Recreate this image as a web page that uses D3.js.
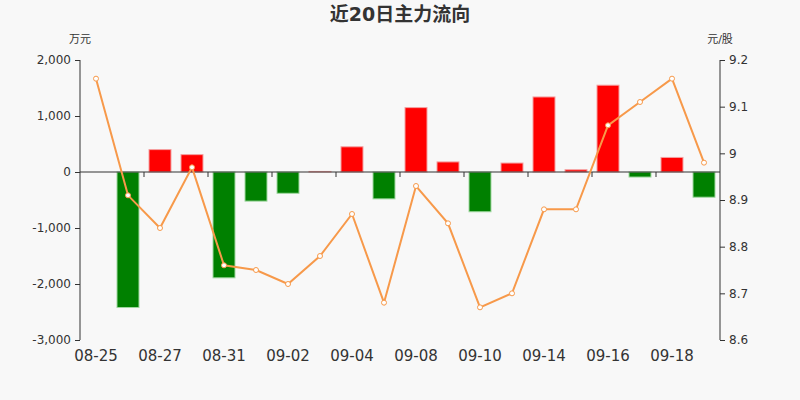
<!DOCTYPE html>
<html>
<head>
<meta charset="utf-8">
<title>近20日主力流向</title>
<script src="https://d3js.org/d3.v7.min.js"></script>
<style>
  body { margin: 0; background: #f8f8f8; }
  text { font-family: "DejaVu Sans", "Noto Sans CJK SC", sans-serif; fill: #333; }
</style>
</head>
<body>
<div id="chart"></div>
<script>
// 日期
var dates = ["08-25", "08-26", "08-27", "08-28", "08-31", "09-01", "09-02", "09-03", "09-04", "09-07",
             "09-08", "09-09", "09-10", "09-11", "09-14", "09-15", "09-16", "09-17", "09-18", "09-19"];
// 主力净流入 (万元)
var flows = [0, -2420, 400, 310, -1890, -520, -380, 10, 450, -480,
             1150, 180, -710, 160, 1340, 40, 1550, -90, 260, -450];
// 收盘价 (元/股)
var prices = [9.16, 8.91, 8.84, 8.97, 8.76, 8.75, 8.72, 8.78, 8.87, 8.68,
              8.93, 8.85, 8.67, 8.70, 8.88, 8.88, 9.06, 9.11, 9.16, 8.98];
var leftTicks = [2000, 1000, 0, -1000, -2000, -3000];
var rightTicks = [9.2, 9.1, 9, 8.9, 8.8, 8.7, 8.6];

var width = 800, height = 400;
var mLeft = 80, mRight = 720, mTop = 60, mBottom = 340;

var svg = d3.select("#chart").append("svg")
    .attr("width", width).attr("height", height)
    .style("background", "#f8f8f8");

// 标题
svg.append("text")
    .attr("x", 400).attr("y", 21)
    .attr("text-anchor", "middle")
    .attr("font-size", 19).attr("font-weight", "bold")
    .text("近20日主力流向");

svg.append("text").attr("x", 80).attr("y", 43)
    .attr("text-anchor", "middle").attr("font-size", 11).text("万元");
svg.append("text").attr("x", 720).attr("y", 43)
    .attr("text-anchor", "middle").attr("font-size", 11).text("元/股");

var x = d3.scaleBand().domain(dates).range([mLeft, mRight]).paddingInner(0.3125).paddingOuter(0.15625);
var xc = d3.scaleBand().domain(dates).range([mLeft, mRight]);
var y = d3.scaleLinear().domain([-3000, 2000]).range([mBottom, mTop]);
var y2 = d3.scaleLinear().domain([8.6, 9.2]).range([mBottom, mTop]);

var fmt = d3.formatLocale({decimal: ".", thousands: ",", grouping: [3], currency: ["", ""], minus: "-"}).format(",");

// 左轴
var gl = svg.append("g").attr("transform", "translate(" + mLeft + ",0)")
    .call(d3.axisLeft(y).tickValues(leftTicks).tickSize(5).tickPadding(4).tickFormat(fmt));
gl.selectAll("text").attr("font-size", 12);
gl.select(".domain").attr("d", "M0," + mTop + "V" + mBottom).attr("stroke", "#333");
gl.selectAll(".tick line").attr("stroke", "#333");

// 右轴
var gr = svg.append("g").attr("transform", "translate(" + mRight + ",0)")
    .call(d3.axisRight(y2).tickValues(rightTicks).tickSize(5).tickPadding(4).tickFormat(d => String(+d.toFixed(1))));
gr.selectAll("text").attr("font-size", 12);
gr.select(".domain").attr("d", "M0," + mTop + "V" + mBottom).attr("stroke", "#333");
gr.selectAll(".tick line").attr("stroke", "#333");

// 柱子
svg.selectAll("rect.bar")
    .data(flows)
    .enter()
    .append("rect")
    .attr("class", "bar")
    .attr("x", (d, i) => x(dates[i]))
    .attr("width", x.bandwidth())
    .attr("y", d => y(Math.max(0, d)))
    .attr("height", d => Math.abs(y(d) - y(0)))
    .attr("fill", d => d >= 0 ? "#ff0000" : "#008000")
    .attr("stroke", d => d >= 0 ? "#f4a0a0" : "#a0d8a0")
    .attr("stroke-width", 1);

// 零轴与刻度
var gx = svg.append("g").attr("transform", "translate(0," + y(0) + ")");
gx.append("line").attr("x1", mLeft).attr("x2", mRight).attr("stroke", "#333");
gx.selectAll("line.tk")
    .data(dates.filter((d, i) => i % 2 == 0 && i > 0))
    .enter().append("line")
    .attr("class", "tk")
    .attr("x1", d => xc(d)).attr("x2", d => xc(d))
    .attr("y1", 0).attr("y2", 5)
    .attr("stroke", "#333");

var xAxis = d3.axisBottom(xc)
    .tickValues(dates.filter((d, i) => i % 2 == 0))
    .tickSize(0).tickPadding(0);
var gb = svg.append("g").attr("transform", "translate(0," + (mBottom + 21) + ")").call(xAxis);
gb.select(".domain").remove();
gb.selectAll("text").attr("font-size", 15).attr("dy", 0);

// 价格线
var line = d3.line()
    .x((d, i) => xc(dates[i]) + xc.bandwidth() / 2)
    .y(d => y2(d));
svg.append("path")
    .datum(prices)
    .attr("d", line)
    .attr("fill", "none")
    .attr("stroke", "#f7994a")
    .attr("stroke-width", 2);

svg.selectAll("circle.pt")
    .data(prices)
    .enter()
    .append("circle")
    .attr("class", "pt")
    .attr("cx", (d, i) => xc(dates[i]) + xc.bandwidth() / 2)
    .attr("cy", d => y2(d))
    .attr("r", 2.5)
    .attr("fill", "#fff")
    .attr("stroke", "#f7994a")
    .attr("stroke-width", 1);
</script>
</body>
</html>
